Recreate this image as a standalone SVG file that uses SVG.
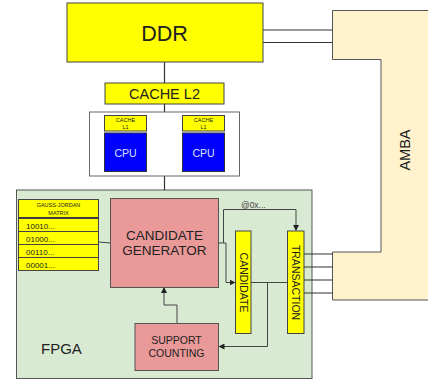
<svg xmlns="http://www.w3.org/2000/svg" width="428" height="383" viewBox="0 0 428 383">
<style>
text{font-family:"Liberation Sans",Arial,sans-serif;fill:#222}
.y{fill:#ffff00;stroke:#444;stroke-width:1}
.p{fill:#ea9999;stroke:#555;stroke-width:1}
.c{fill:none;stroke:#333;stroke-width:1.2}
.a{fill:none;stroke:#444;stroke-width:1}
.m{text-anchor:middle}
</style>
<defs>
<marker id="ar" markerWidth="6" markerHeight="6" refX="5" refY="3" orient="auto" markerUnits="userSpaceOnUse">
<path d="M0,0 L6,3 L0,6 Z" fill="#222"/>
</marker>
</defs>
<g id="amba">
<path d="M332.5,10.5 H430 V300 H332.5 V252 H381 V59.5 H332.5 Z" fill="#fff2cc" stroke="#555" stroke-width="1"/>
<text class="m" font-size="14.5" transform="translate(410,150) rotate(-90)">AMBA</text>
</g>
<g id="fpga">
<rect x="16.5" y="190" width="295.5" height="188.5" fill="#d9ead3" stroke="#555" stroke-width="1"/>
<text x="41" y="354" font-size="15">FPGA</text>
</g>
<g id="connectors">
<path class="c" d="M263,30 H332.5 M263,42.5 H332.5"/>
<path class="c" d="M164.5,62 V83 M164.5,104 V112 M164.5,176 V190"/>
<path class="c" d="M304,254 H332.5 M304,267 H332.5 M304,280 H332.5 M304,293 H332.5"/>
<path class="a" d="M98.5,242 L110.5,243"/>
<path class="a" d="M218,243 H223.5 V209.5 H296 V230" marker-end="url(#ar)"/>
<path class="a" d="M223.5,243 H226 V282.5 H234.5" marker-end="url(#ar)"/>
<path class="a" d="M251,282.5 H287.5"/>
<path class="a" d="M267.5,282.5 V346.5 H219.5" marker-end="url(#ar)"/>
<path class="a" d="M177,323 V305 H164 V288" marker-end="url(#ar)"/>
<text x="241" y="208" font-size="8.5" style="fill:#444">@0x...</text>
</g>
<g id="ddr">
<rect class="y" x="67" y="3" width="196" height="59"/>
<text class="m" x="164.5" y="41" font-size="21.5">DDR</text>
</g>
<g id="cache-l2">
<rect class="y" x="105" y="83" width="119" height="21"/>
<text class="m" x="164.5" y="99" font-size="14.5">CACHE L2</text>
</g>
<g id="cpu-cluster">
<rect x="89.5" y="112" width="150" height="64" fill="#fff" stroke="#666" stroke-width="1"/>
</g>
<g id="cpu1">
<rect class="y" x="104.5" y="115.5" width="42" height="15.5"/>
<text class="m" x="125.5" y="122" font-size="5.5">CACHE</text>
<text class="m" x="125.5" y="129" font-size="5.5">L1</text>
<rect x="104.5" y="133" width="42" height="38.5" fill="#0000ff" stroke="#333" stroke-width="1"/>
<text class="m" x="125.5" y="157" font-size="10.5" style="fill:#dde4f5">CPU</text>
</g>
<g id="cpu2">
<rect class="y" x="182.5" y="115.5" width="42" height="15.5"/>
<text class="m" x="203.5" y="122" font-size="5.5">CACHE</text>
<text class="m" x="203.5" y="129" font-size="5.5">L1</text>
<rect x="182.5" y="133" width="42" height="38.5" fill="#0000ff" stroke="#333" stroke-width="1"/>
<text class="m" x="203.5" y="157" font-size="10.5" style="fill:#dde4f5">CPU</text>
</g>
<g id="gauss-jordan-matrix">
<rect class="y" x="18.5" y="199.5" width="80" height="18"/>
<text class="m" x="58.5" y="206.5" font-size="5.5">GAUSS-JORDAN</text>
<text class="m" x="58.5" y="214.5" font-size="5.5">MATRIX</text>
<line x1="18.5" y1="218" x2="98.5" y2="218" stroke="#333" stroke-width="1.5"/>
<rect class="y" x="18.5" y="218.5" width="80" height="13"/>
<rect class="y" x="18.5" y="231.5" width="80" height="13"/>
<rect class="y" x="18.5" y="244.5" width="80" height="13"/>
<rect class="y" x="18.5" y="257.5" width="80" height="13"/>
<text x="26" y="228.5" font-size="8">10010...</text>
<text x="26" y="241.5" font-size="8">01000...</text>
<text x="26" y="254.5" font-size="8">00110...</text>
<text x="26" y="267.5" font-size="8">00001...</text>
</g>
<g id="candidate-generator">
<rect class="p" x="110.5" y="198.5" width="108" height="89"/>
<text class="m" x="164.5" y="240" font-size="13.5">CANDIDATE</text>
<text class="m" x="164.5" y="255" font-size="13.5">GENERATOR</text>
</g>
<g id="candidate">
<rect class="y" x="235.5" y="231" width="15.5" height="102.5"/>
<text class="m" font-size="10.5" transform="translate(239.5,282.5) rotate(90)">CANDIDATE</text>
</g>
<g id="transaction">
<rect class="y" x="287.5" y="231" width="16.5" height="102.5"/>
<text class="m" font-size="10.5" transform="translate(292,282.5) rotate(90)">TRANSACTION</text>
</g>
<g id="support-counting">
<rect class="p" x="135" y="323.5" width="83.5" height="47"/>
<text class="m" x="176.5" y="344" font-size="10.5">SUPPORT</text>
<text class="m" x="176.5" y="357" font-size="10.5">COUNTING</text>
</g>
</svg>
